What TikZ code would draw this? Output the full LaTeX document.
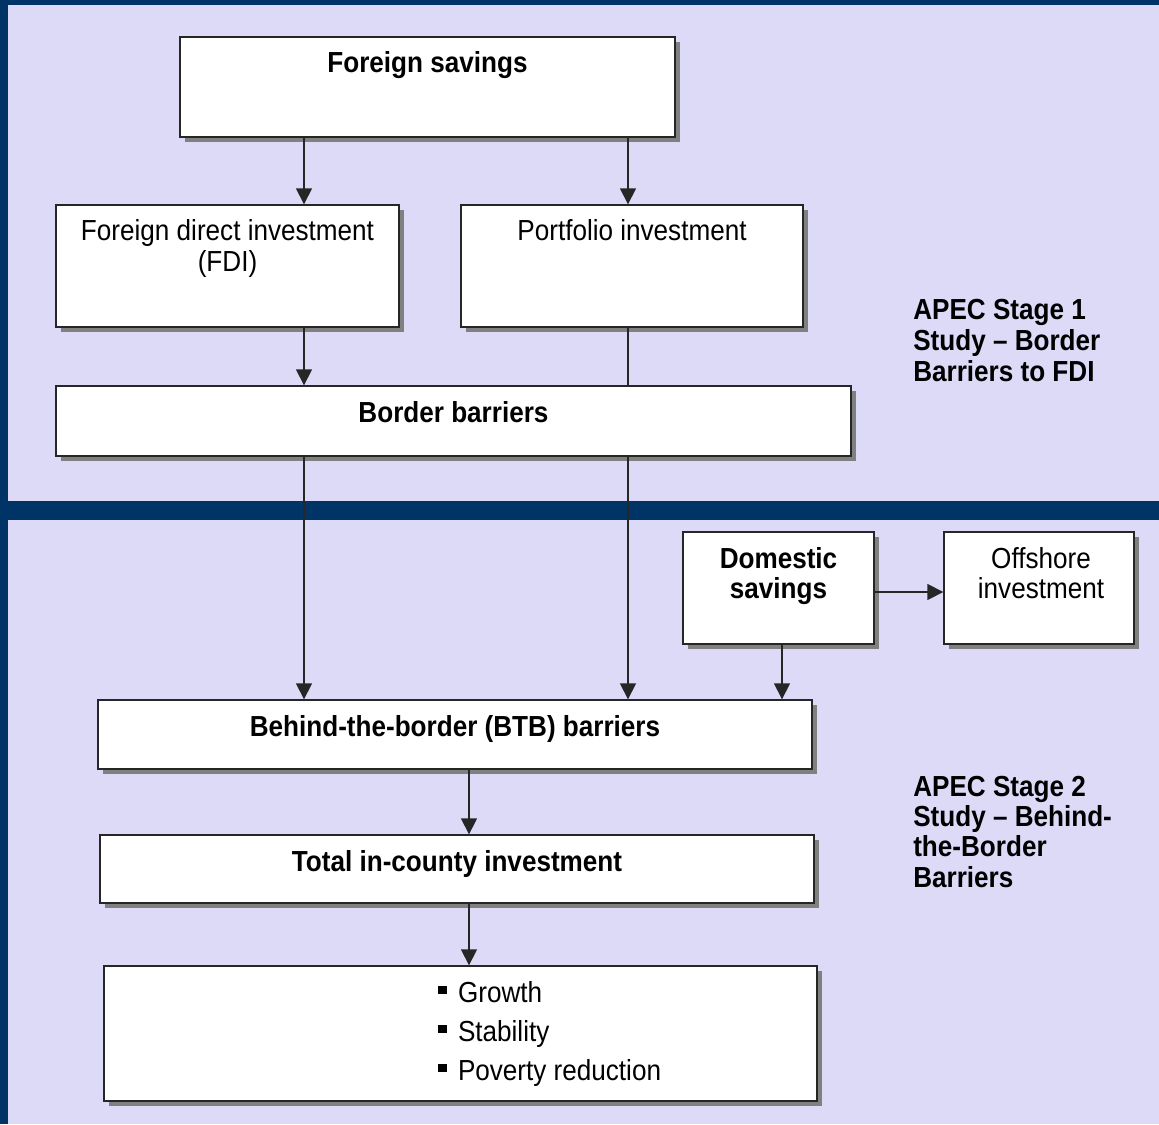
\documentclass[tikz,border=0pt]{standalone}
\usepackage{fontspec}
\newfontfamily\rfont{Liberation Sans}[FakeStretch=0.9]
\newfontfamily\bfont{Liberation Sans Bold}[FakeStretch=0.9]
\usetikzlibrary{arrows.meta,shadows,backgrounds}
\definecolor{navy}{RGB}{0,51,102}
\definecolor{lav}{RGB}{221,218,248}
\definecolor{shgray}{RGB}{128,128,128}
\newcommand\ml[1]{\begin{tabular}[t]{@{}c@{}}#1\end{tabular}}
\newcommand\mll[1]{\begin{tabular}[t]{@{}l@{}}#1\end{tabular}}
\newcommand\bul{\rule[6.3pt]{6.6pt}{6.6pt}\hspace{8.2pt}}
\begin{document}
\begin{tikzpicture}[x=0.75pt,y=-0.75pt,
  sz/.style 2 args={minimum width=#1*0.75pt, minimum height=#2*0.75pt},
  box/.style={draw=black!85, line width=1pt, fill=white, inner sep=0pt, rectangle,
    drop shadow={shadow xshift=3.75pt, shadow yshift=-3.75pt, fill=shgray, opacity=1}},
  conn/.style={draw=black!85, line width=1pt},
  arr/.style={conn, -{Triangle[width=12pt,length=12pt]}},
  rt/.style={font=\rfont\fontsize{21.75pt}{23.25pt}\selectfont, inner sep=0pt, anchor=base},
  bt/.style={font=\bfont\fontsize{21.75pt}{23.25pt}\selectfont, inner sep=0pt, anchor=base},
]
\useasboundingbox (0,0) rectangle (1159,1124);

% boxes
\node[box, sz={495}{100}] (fs) at (427.5,87) {};
\node[box, sz={343}{122}] (fdi) at (227.5,266) {};
\node[box, sz={342}{122}] (pf) at (632,266) {};
\node[box, sz={795}{70}] (bb) at (453.5,421) {};
\node[box, sz={191}{112}] (ds) at (778.5,588) {};
\node[box, sz={190}{112}] (off) at (1039,588) {};
\node[box, sz={714}{69}] (btb) at (455,734.5) {};
\node[box, sz={714}{68}] (tot) at (457,869) {};
\node[box, sz={713}{135}] (res) at (460.5,1033.5) {};

% texts
\node[bt] (fs-t) at (fs |- 0,73) {Foreign savings};
\node[rt] (fdi-t) at (fdi |- 0,240.5) {\ml{Foreign direct investment\\(FDI)}};
\node[rt] (pf-t) at (pf |- 0,240.5) {Portfolio investment};
\node[bt] (bb-t) at (bb |- 0,422.5) {Border barriers};
\node[bt, font=\bfont\fontsize{21.75pt}{22.5pt}\selectfont] (ds-t) at (ds |- 0,568.5) {\ml{Domestic\\savings}};
\node[rt, font=\rfont\fontsize{21.75pt}{22.5pt}\selectfont] (off-t) at (1041,568.5) {\ml{Offshore\\investment}};
\node[bt] (btb-t) at (btb |- 0,736) {Behind-the-border (BTB) barriers};
\node[bt] (tot-t) at (tot |- 0,871) {Total in-county investment};
\node[rt, anchor=base west, font=\rfont\fontsize{21.75pt}{29.25pt}\selectfont] (res-t) at (438,1002.7)
  {\mll{\bul Growth\\\bul Stability\\\bul Poverty reduction}};
\node[bt, anchor=base west] (s1) at (913,319.3) {\mll{APEC Stage 1\\Study – Border\\Barriers to FDI}};
\node[bt, anchor=base west, font=\bfont\fontsize{21.75pt}{22.75pt}\selectfont] (s2) at (913,796)
  {\mll{APEC Stage 2\\Study – Behind-\\the-Border\\Barriers}};

% connector guides
\coordinate (xA) at (304,0);
\coordinate (xB) at (628,0);
\coordinate (xC) at (782,0);
\coordinate (xD) at (469,0);
\coordinate (yE) at (0,592);

\draw[arr] (fs.south -| xA) -- (fdi.north -| xA);
\draw[arr] (fs.south -| xB) -- (pf.north -| xB);
\draw[arr] (fdi.south -| xA) -- (bb.north -| xA);
\draw[conn] (pf.south -| xB) -- (bb.north -| xB);
\draw[arr] (bb.south -| xA) -- (btb.north -| xA);
\draw[arr] (bb.south -| xB) -- (btb.north -| xB);
\draw[arr] (ds.south -| xC) -- (btb.north -| xC);
\draw[arr] (ds.east |- yE) -- (off.west |- yE);
\draw[arr] (btb.south -| xD) -- (tot.north -| xD);
\draw[arr] (tot.south -| xD) -- (res.north -| xD);

\begin{scope}[on background layer]
\fill[lav] (0,0) rectangle (1159,1124);
\fill[navy] (0,0) rectangle (1159,5);
\fill[navy] (0,0) rectangle (8,1124);
\fill[navy] (0,501) rectangle (1159,520);
\end{scope}
\end{tikzpicture}
\end{document}
